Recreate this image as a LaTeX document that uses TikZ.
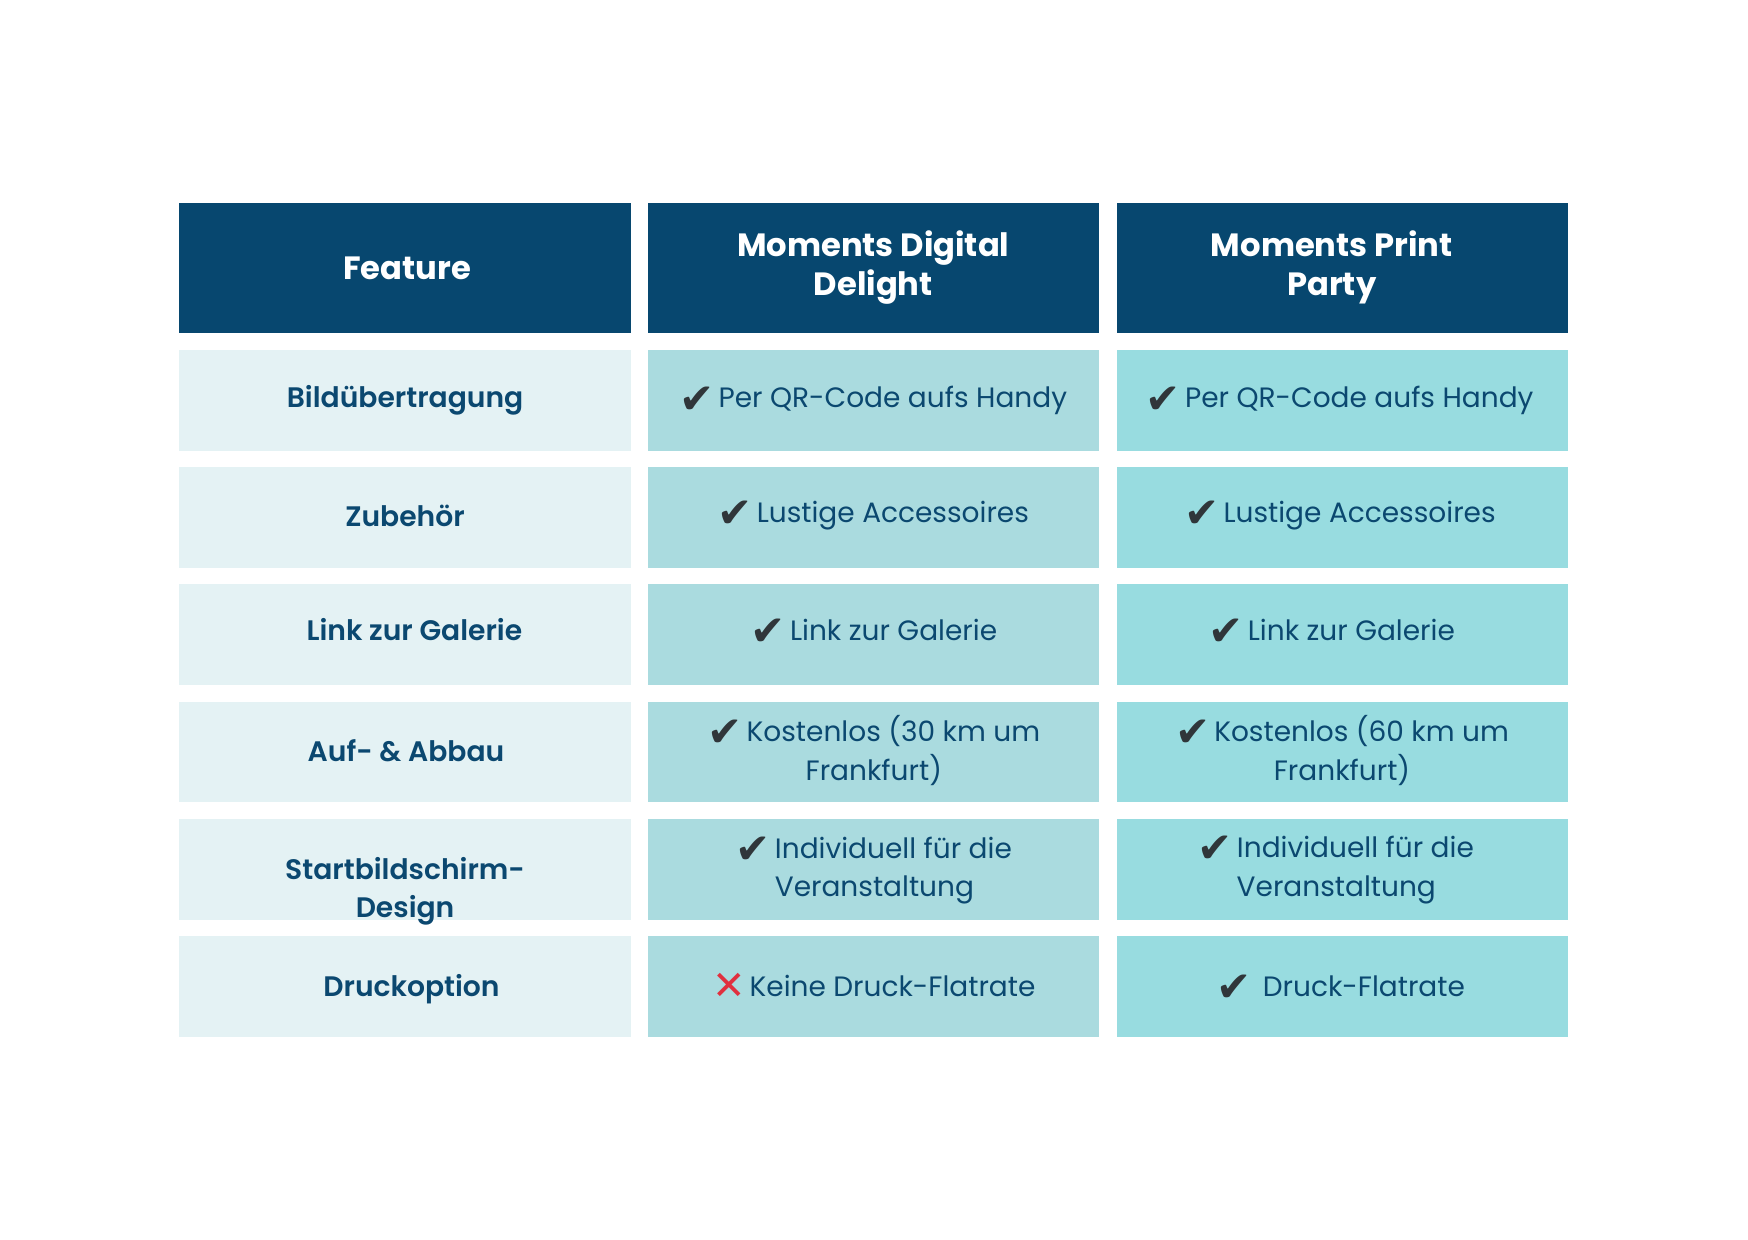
\documentclass[tikz,border=0pt]{standalone}
\usepackage{fontspec}
\setmainfont{Poppins}
\newfontfamily\popsemi{Poppins SemiBold}
\newfontfamily\dejavu{DejaVu Sans}
\definecolor{hdr}{HTML}{07476F}
\definecolor{cA}{HTML}{E4F2F4}
\definecolor{cB}{HTML}{AADBDF}
\definecolor{cC}{HTML}{98DCE0}
\definecolor{txt}{HTML}{0B4870}
\definecolor{chk}{HTML}{30363A}
\definecolor{crs}{HTML}{E0303F}
\newcommand\chk{{\dejavu\fontsize{21}{19}\selectfont\color{chk}\raisebox{-2.6pt}{✔}}}
\newcommand\crs{{\dejavu\fontsize{20}{19}\selectfont\color{crs}\raisebox{-1.8pt}{✕}}}
\tikzset{
  x=0.5pt, y=-0.5pt,
  cellbox/.style={rectangle, minimum width=225.75pt, minimum height=50.35pt, inner sep=0pt, outer sep=0pt, draw=none},
  hdrbox/.style={cellbox, minimum height=65.15pt, fill=hdr},
  boxA/.style={cellbox, fill=cA},
  boxB/.style={cellbox, fill=cB},
  boxC/.style={cellbox, fill=cC},
  hdrtext/.style={anchor=base, inner sep=0pt, text=white, font=\bfseries\fontsize{16.1}{19.5}\selectfont},
  feat/.style={anchor=base, inner sep=0pt, text=txt, font=\popsemi\fontsize{14.1}{19}\selectfont},
  body/.style={anchor=base, inner sep=0pt, text=txt, font=\fontsize{14.0}{19}\selectfont},
}
\begin{document}
\begin{tikzpicture}
\useasboundingbox[fill=white] (0,0) rectangle (1748,1240);
% header
\node[hdrbox] (h1) at (405.05,268.15) {};
\node[hdrbox] (h2) at (873.25,268.15) {};
\node[hdrbox] (h3) at (1342.45,268.15) {};
\node[hdrtext] (th1) at (407.2,280) {Feature};
\node[hdrtext] (th2a) at (873.25,257) {Moments Digital};
\node[hdrtext] (th2b) at (873.25,296) {Delight};
\node[hdrtext] (th3a) at (1331.8,257) {Moments Print};
\node[hdrtext] (th3b) at (1331.8,296) {Party};
% rows: boxes
\foreach \r/\y in {1/400.35,2/517.55,3/634.75,4/751.95,5/869.15,6/986.35}{
  \node[boxA] (a\r) at (405.05,\y) {};
  \node[boxB] (b\r) at (873.25,\y) {};
  \node[boxC] (c\r) at (1342.45,\y) {};
}
% row 1
\node[feat] (ta1) at (405.05,408) {Bildübertragung};
\node[body] (tb1) at (873.25,408) {\chk\hspace{2pt}Per QR-Code aufs Handy};
\node[body] (tc1) at (1339.7,408) {\chk\hspace{2pt}Per QR-Code aufs Handy};
% row 2
\node[feat] (ta2) at (405.05,526.7) {Zubehör};
\node[body] (tb2) at (873.25,522.3) {\chk\hspace{2pt}Lustige Accessoires};
\node[body] (tc2) at (1340,522.3) {\chk\hspace{2pt}Lustige Accessoires};
% row 3
\node[feat] (ta3) at (414.4,640.5) {Link zur Galerie};
\node[body] (tb3) at (874,640.5) {\chk\hspace{2pt}Link zur Galerie};
\node[body] (tc3) at (1331.8,640.5) {\chk\hspace{2pt}Link zur Galerie};
% row 4
\node[feat] (ta4) at (406,761) {Auf- \& Abbau};
\node[body] (tb4a) at (873.8,741.7) {\chk\hspace{2pt}Kostenlos (30 km um};
\node[body] (tb4b) at (873.8,780) {Frankfurt)};
\node[body] (tc4a) at (1342,741.7) {\chk\hspace{2pt}Kostenlos (60 km um};
\node[body] (tc4b) at (1342,780) {Frankfurt)};
% row 5
\node[feat] (ta5a) at (405.05,879) {Startbildschirm-};
\node[feat] (ta5b) at (405.05,917) {Design};
\node[body] (tb5a) at (873.8,858.3) {\chk\hspace{2pt}Individuell für die};
\node[body] (tb5b) at (874.4,896) {Veranstaltung};
\node[body] (tc5a) at (1335.8,857.5) {\chk\hspace{2pt}Individuell für die};
\node[body] (tc5b) at (1336.3,896) {Veranstaltung};
% row 6
\node[feat] (ta6) at (411.5,996) {Druckoption};
\node[body] (tb6) at (873.8,996) {\crs\hspace{2pt}Keine Druck-Flatrate};
\node[body] (tc6) at (1340.8,996) {\chk\hspace{5.5pt}Druck-Flatrate};
\end{tikzpicture}
\end{document}
